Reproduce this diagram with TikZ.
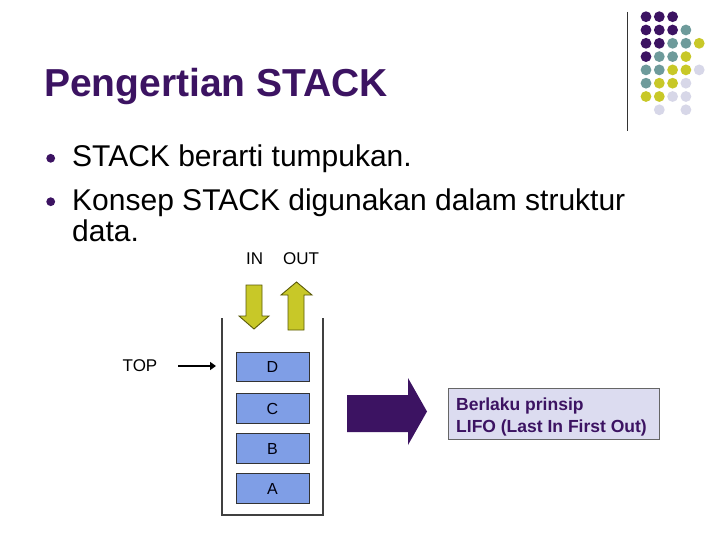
\documentclass[tikz,border=0pt]{standalone}
\usepackage{fontspec}
\setmainfont{Liberation Sans}
\usetikzlibrary{arrows.meta}
\definecolor{dpurple}{HTML}{3C1362}
\definecolor{dteal}{HTML}{6E9B9B}
\definecolor{dyellow}{HTML}{C8C828}
\definecolor{dlav}{HTML}{D7D7E8}
\definecolor{boxblue}{HTML}{7F9EE6}
\definecolor{lifobg}{HTML}{DCDCF0}
\definecolor{olive}{HTML}{5A5A08}
\tikzset{
  txt/.style={inner sep=0pt, anchor=base west},
  stackbox/.style={draw=black!80, line width=0.8pt, fill=boxblue, minimum width=73pt, minimum height=29.5pt, inner sep=0pt, text=black!80!blue!30!black, font=\fontsize{16}{18}\selectfont},
  ioarrow/.style={draw=olive, line width=0.9pt, fill=dyellow},
}
\begin{document}
\begin{tikzpicture}[x=1pt,y=-1pt]
\useasboundingbox (0,0) rectangle (720,540);
\fill[white] (0,0) rectangle (720,540);
% decoration dots
\def\dc#1#2#3{\fill[#3] (646+13.3*#1, 16.7+13.3*#2) circle (5.4);}
\foreach \c/\r/\col in {0/0/dpurple,1/0/dpurple,2/0/dpurple,
  0/1/dpurple,1/1/dpurple,2/1/dpurple,3/1/dteal,
  0/2/dpurple,1/2/dpurple,2/2/dteal,3/2/dteal,4/2/dyellow,
  0/3/dpurple,1/3/dteal,2/3/dteal,3/3/dyellow,
  0/4/dteal,1/4/dteal,2/4/dyellow,3/4/dyellow,4/4/dlav,
  0/5/dteal,1/5/dyellow,2/5/dyellow,3/5/dlav,
  0/6/dyellow,1/6/dyellow,2/6/dlav,3/6/dlav,
  1/7/dlav,3/7/dlav}{\dc{\c}{\r}{\col}}
\draw[line width=1pt, black!80] (627,12) -- (627,131);
% title
\node[txt, text=dpurple, font=\fontsize{39}{44}\selectfont\bfseries] (title) at (44,97) {Pengertian STACK};
% bullets
\fill[dpurple] (50.7,158.3) circle (4.4);
\fill[dpurple] (50.7,201.7) circle (4.4);
\node[txt, font=\fontsize{30}{34}\selectfont] (l1) at (72,167) {STACK berarti tumpukan.};
\node[txt, font=\fontsize{30}{34}\selectfont] (l2) at (72,210.5) {Konsep STACK digunakan dalam struktur};
\node[txt, font=\fontsize{30}{34}\selectfont] (l3) at (72,241.5) {data.};
% IN / OUT
\node[txt, font=\fontsize{17}{20}\selectfont] (in) at (246,264) {IN};
\node[txt, font=\fontsize{17}{20}\selectfont] (out) at (283,264) {OUT};
\draw[ioarrow] (246,285) -- (262,285) -- (262,316) -- (269,316) -- (254,329) -- (239,316) -- (246,316) -- cycle;
\draw[ioarrow] (288,330) -- (304,330) -- (304,295) -- (312,295) -- (296.5,282) -- (281,295) -- (288,295) -- cycle;
% container
\draw[line width=1.2pt, black!75] (222,318) -- (222,515) -- (323,515) -- (323,318);
% stack boxes
\node[stackbox] (D) at (272.5,367) {D};
\node[stackbox] (C) at (272.5,408.5) {C};
\node[stackbox] (B) at (272.5,448.5) {B};
\node[stackbox] (A) at (272.5,488.5) {A};
% TOP
\node[inner sep=0pt, font=\fontsize{17}{20}\selectfont] (top) at (140,366) {TOP};
\coordinate (ts) at (178,366);
\coordinate (te) at (216,366);
\draw[line width=2.8pt, -{Triangle[length=6pt,width=8pt]}] (ts) -- (te);
% big arrow
\fill[dpurple] (347,395) -- (408,395) -- (408,378) -- (427,411.5) -- (408,445) -- (408,432) -- (347,432) -- cycle;
% LIFO box
\node[draw=black!60, line width=0.8pt, fill=lifobg, minimum width=211pt, minimum height=51pt, inner sep=0pt] (lifo) at (553.5,413.5) {};
\node[txt, text=dpurple, font=\fontsize{17.5}{20}\selectfont\bfseries] (lt1) at (456,410) {Berlaku prinsip};
\node[txt, text=dpurple, font=\fontsize{17.5}{20}\selectfont\bfseries] (lt2) at (456,432) {LIFO (Last In First Out)};
\end{tikzpicture}
\end{document}
